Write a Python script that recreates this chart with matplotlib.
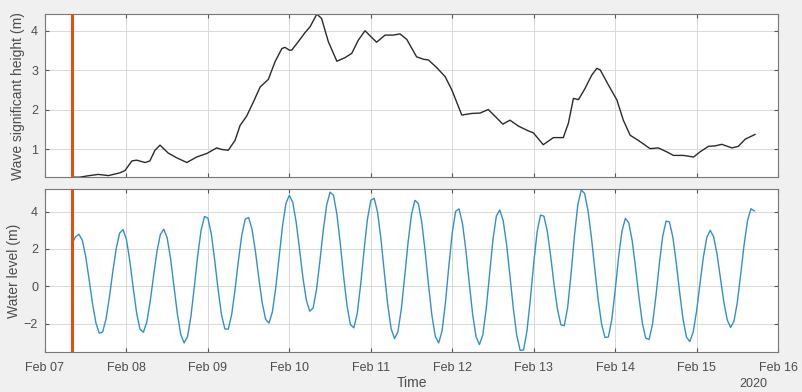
import numpy as np
import pandas as pd
import matplotlib
matplotlib.use("Agg")
import matplotlib.pyplot as plt
import matplotlib.dates as mdates

plt.rcParams['font.family'] = ['Liberation Sans', 'DejaVu Sans']

# time origin, everything below is hours after it
t0 = pd.Timestamp("2020-02-07 00:00")
marker_hour = 8.0

# wave significant height (m)
wave_hours = [8.0, 10.3, 12.3, 15.7, 18.7, 22.1, 23.6, 25.6, 27.0, 29.5, 30.9, 32.4, 33.9,
              36.3, 38.8, 41.8, 44.7, 47.7, 50.6, 52.1, 54.0, 56.0, 57.5, 59.4, 61.4, 63.4,
              65.8, 67.8, 69.8, 70.7, 72.0, 72.7, 74.6, 76.6, 78.1, 80.1, 81.5, 83.5, 86.0,
              88.4, 90.4, 92.3, 94.3, 95.8, 97.7, 100.2, 102.6, 104.6, 106.6, 109.5, 111.5,
              113.0, 115.4, 117.9, 119.9, 122.8, 125.7, 128.2, 130.6, 132.6, 134.9, 137.0,
              139.5, 142.4, 143.9, 146.8, 149.8, 152.7, 154.2, 155.7, 157.2, 159.1, 161.1,
              162.6, 163.6, 166.0, 168.5, 170.4, 172.4, 174.8, 178.3, 180.7, 183.2, 185.2,
              188.1, 191.1, 193.0, 195.5, 197.4, 199.4, 202.4, 204.3, 206.3, 209.2]
wave_height = [0.30, 0.30, 0.33, 0.37, 0.34, 0.41, 0.47, 0.71, 0.73, 0.67, 0.71, 0.98, 1.11,
               0.91, 0.79, 0.67, 0.81, 0.90, 1.04, 1.00, 0.98, 1.23, 1.61, 1.84, 2.20, 2.58,
               2.77, 3.22, 3.55, 3.58, 3.51, 3.51, 3.72, 3.95, 4.10, 4.42, 4.31, 3.72, 3.23,
               3.32, 3.43, 3.76, 4.00, 3.87, 3.71, 3.89, 3.89, 3.92, 3.78, 3.34, 3.28,
               3.26, 3.07, 2.84, 2.50, 1.87, 1.91, 1.92, 2.01, 1.84, 1.64, 1.74,
               1.59, 1.47, 1.42, 1.12, 1.30, 1.30, 1.66, 2.29, 2.26, 2.54, 2.88,
               3.05, 3.01, 2.63, 2.25, 1.74, 1.36, 1.23, 1.02, 1.04, 0.94, 0.85,
               0.85, 0.81, 0.94, 1.08, 1.09, 1.13, 1.04, 1.08, 1.26, 1.38]

# water level (m), hourly from 08:00 on Feb 07
level_start_hour = 8
water_level = [2.29, 2.65, 2.79, 2.47, 1.60, 0.37, -0.92, -1.96, -2.52, -2.45, -1.75, -0.57,
               0.80, 2.03, 2.85, 3.04, 2.51, 1.36, -0.09, -1.43, -2.31, -2.47, -1.92, -0.82,
               0.56, 1.87, 2.78, 3.06, 2.60, 1.49, 0.01, -1.47, -2.58, -3.04, -2.70, -1.62,
               -0.04, 1.64, 3.01, 3.74, 3.66, 2.82, 1.41, -0.16, -1.52, -2.29, -2.30, -1.53,
               -0.18, 1.38, 2.76, 3.60, 3.69, 3.06, 1.88, 0.44, -0.88, -1.77, -1.98, -1.38,
               -0.07, 1.61, 3.25, 4.45, 4.88, 4.50, 3.45, 1.99, 0.46, -0.74, -1.34, -1.17,
               -0.18, 1.35, 3.02, 4.36, 5.05, 4.88, 3.88, 2.30, 0.52, -1.06, -2.06, -2.23,
               -1.46, 0.07, 1.91, 3.59, 4.61, 4.72, 3.96, 2.51, 0.71, -1.01, -2.29, -2.81,
               -2.43, -1.21, 0.55, 2.39, 3.87, 4.61, 4.44, 3.45, 1.89, 0.07, -1.56, -2.69,
               -3.04, -2.39, -0.87, 1.09, 2.89, 4.02, 4.15, 3.38, 1.95, 0.18, -1.50, -2.70,
               -3.13, -2.61, -1.20, 0.68, 2.52, 3.78, 4.09, 3.52, 2.25, 0.55, -1.21, -2.63,
               -3.44, -3.42, -2.41, -0.71, 1.24, 2.92, 3.82, 3.76, 2.95, 1.61, 0.07, -1.24,
               -2.07, -2.12, -1.13, 0.67, 2.72, 4.38, 5.18, 4.97, 4.05, 2.62, 0.91, -0.74,
               -2.03, -2.75, -2.72, -1.79, -0.21, 1.55, 2.96, 3.64, 3.41, 2.45, 1.01, -0.59,
               -1.97, -2.79, -2.85, -2.03, -0.54, 1.19, 2.69, 3.50, 3.44, 2.62, 1.25, -0.34,
               -1.78, -2.73, -2.97, -2.44, -1.31, 0.16, 1.58, 2.62, 3.00, 2.66, 1.73, 0.46,
               -0.83, -1.80, -2.21, -1.88, -0.84, 0.67, 2.26, 3.53, 4.16, 4.04]

wave_t = t0 + pd.to_timedelta(wave_hours, unit="h")
level_t = pd.date_range(t0 + pd.Timedelta(hours=level_start_hour),
                        periods=len(water_level), freq="h")
marker_t = t0 + pd.Timedelta(hours=marker_hour)

txt = '#4d4d4d'
fig = plt.figure(figsize=(8.03, 3.92), dpi=100, facecolor='#f0f0f0')
ax1 = fig.add_axes([0.056, 0.548, 0.913, 0.416])
ax2 = fig.add_axes([0.056, 0.101, 0.913, 0.416])

ax1.plot(wave_t, wave_height, color='#2b2b2b', lw=1.0, solid_joinstyle='round')
ax2.plot(level_t, water_level, color='#3290cc', lw=1.0, solid_joinstyle='round')

for ax in (ax1, ax2):
    ax.axvline(marker_t, color='#D95319', lw=2.2, zorder=3)
    ax.set_xlim(t0, t0 + pd.Timedelta(days=9))
    ax.xaxis.set_major_locator(mdates.DayLocator())
    ax.xaxis.set_major_formatter(mdates.DateFormatter('%b %d'))
    ax.grid(True, color='#d9d9d9', lw=0.7)
    ax.set_axisbelow(True)
    ax.tick_params(direction='in', length=3, top=True, right=True,
                   labelsize=9, colors=txt, color='#555555')
    ax.tick_params(axis='x', pad=7)
    ax.tick_params(axis='y', pad=5)
    for s in ax.spines.values():
        s.set_color('#777777')
        s.set_linewidth(0.8)

ax1.set_ylim(0.3, 4.42)
ax1.set_yticks([1, 2, 3, 4])
ax1.tick_params(labelbottom=False)
ax1.set_ylabel('Wave significant height (m)', fontsize=10, color=txt, labelpad=4)

ax2.set_ylim(-3.55, 5.2)
ax2.set_yticks([-2, 0, 2, 4])
ax2.set_ylabel('Water level (m)', fontsize=10, color=txt, labelpad=2)
ax2.set_xlabel('Time', fontsize=10, color=txt, labelpad=1)

fig.text(767 / 803, 1 - 384 / 392, '2020', ha='right', va='center', fontsize=9, color=txt)

fig.savefig('out.png', dpi=100, facecolor=fig.get_facecolor())
